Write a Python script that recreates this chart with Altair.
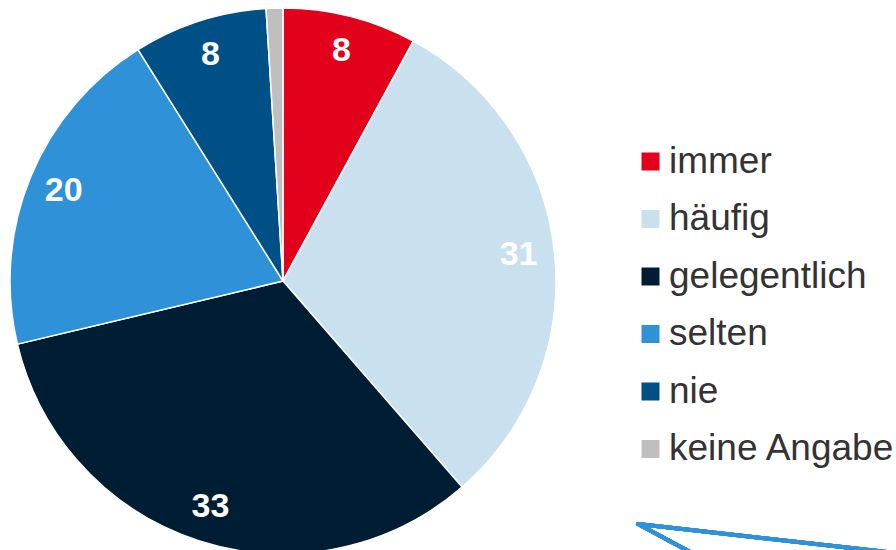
import altair as alt
import pandas as pd

categories = ["immer", "häufig", "gelegentlich", "selten", "nie", "keine Angabe"]
values = [8, 31, 33, 20, 8, 1]
labels = ["8", "31", "33", "20", "8", ""]
colors = ["#e2001a", "#c9e0ef", "#001e33", "#2f91d8", "#005088", "#bfbfbf"]

df = pd.DataFrame({
    "Kategorie": categories,
    "Wert": values,
    "Label": labels,
    "idx": list(range(len(categories))),
})

color_scale = alt.Scale(domain=categories, range=colors)

base = alt.Chart(df).encode(
    theta=alt.Theta("Wert:Q", stack=True),
    order=alt.Order("idx:Q"),
    x=alt.value(283),
    y=alt.value(281),
)

pie = base.mark_arc(radius=273, stroke="white", strokeWidth=1.5).encode(
    color=alt.Color(
        "Kategorie:N",
        scale=color_scale,
        sort=categories,
        legend=alt.Legend(
            title=None,
            orient="none",
            legendX=632,
            legendY=143,
            symbolType="square",
            symbolSize=324,
            symbolStrokeWidth=0,
            labelFontSize=37,
            labelFont="Liberation Sans",
            labelColor="#333333",
            labelOffset=0,
            rowPadding=19.5,
            padding=0,
            labelLimit=400,
        ),
    )
)

text = base.mark_text(
    radius=237, fontSize=34, fontWeight="bold", font="Liberation Sans", color="white"
).encode(text="Label:N")

deco = alt.Chart(df).mark_rule(color="#2f91d8", strokeWidth=4, strokeCap="round")
arrow1 = deco.encode(x=alt.value(638), y=alt.value(524), x2=alt.value(896), y2=alt.value(553))
arrow2 = deco.encode(x=alt.value(638), y=alt.value(524), x2=alt.value(705), y2=alt.value(560))

chart = alt.layer(pie, text, arrow1, arrow2).properties(
    width=896, height=550, padding=0, autosize=alt.AutoSizeParams(type="none")
).configure_view(stroke=None)

chart.save("out.html", embed_options={"renderer": "svg", "actions": False})
